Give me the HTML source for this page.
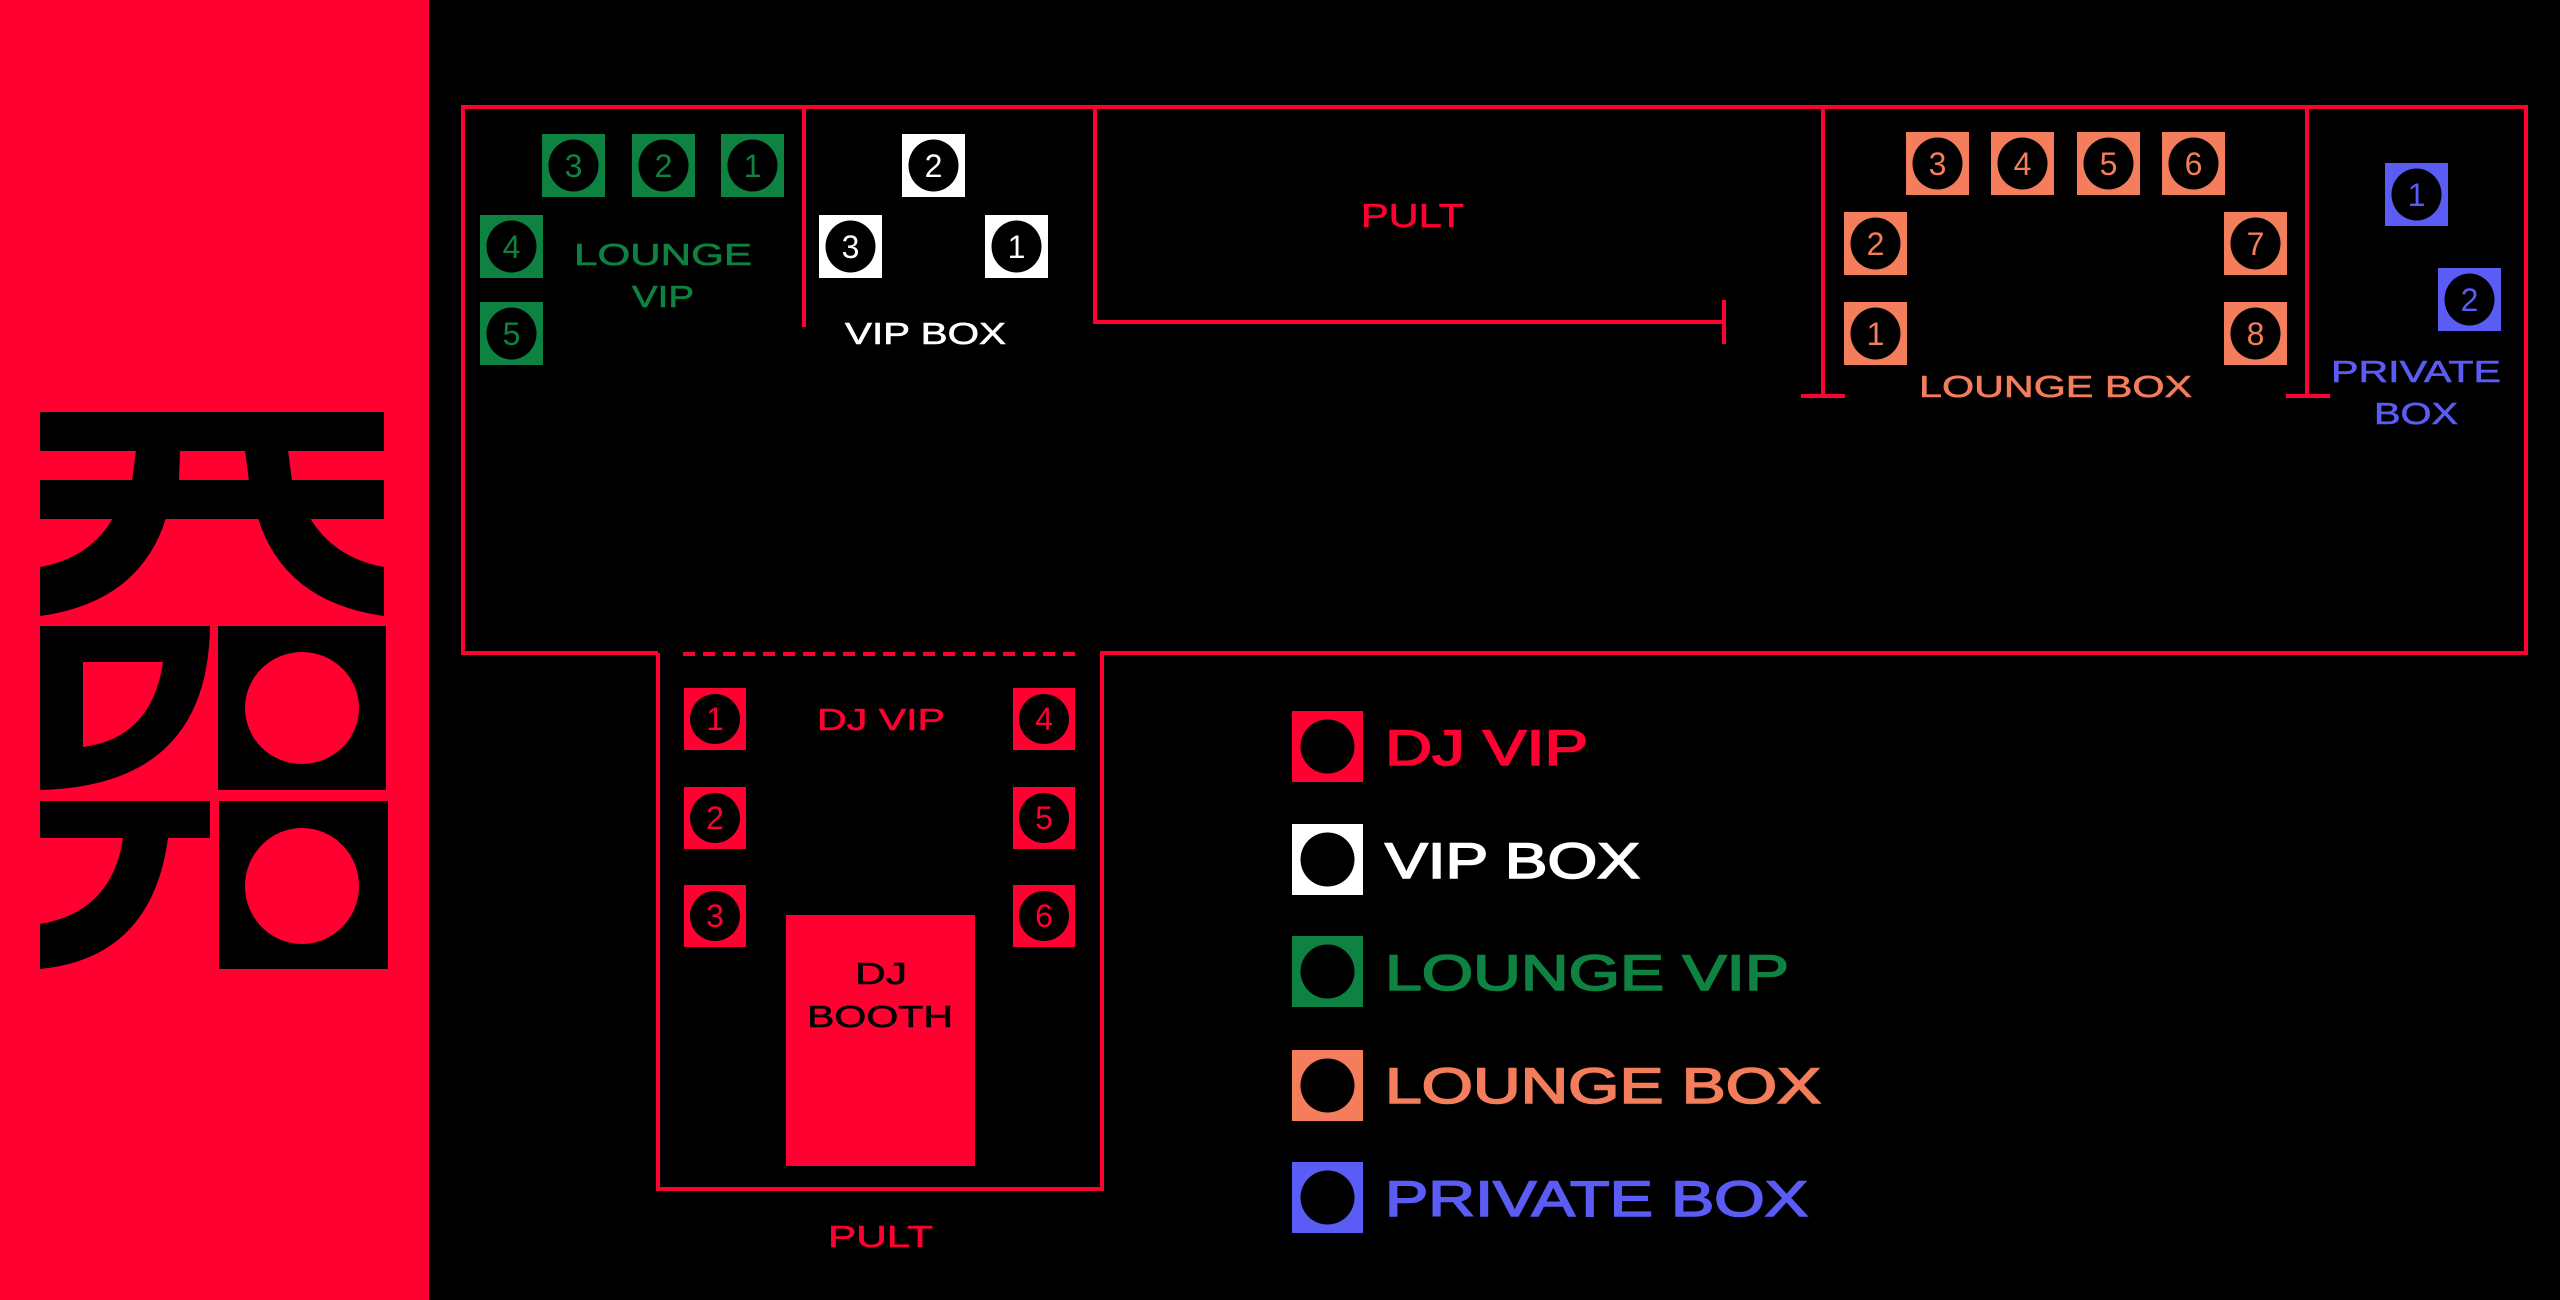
<!DOCTYPE html>
<html><head><meta charset="utf-8"><style>
html,body{margin:0;padding:0;background:#000;}
svg{display:block;}
text{font-family:"Liberation Sans",sans-serif;}
</style></head><body>
<svg width="2560" height="1300" viewBox="0 0 2560 1300" xmlns="http://www.w3.org/2000/svg">
<rect width="2560" height="1300" fill="#000"/>
<rect x="0" y="0" width="429" height="1300" fill="#FF0030"/>
<!-- logo -->
<g fill="#000">
<rect x="40" y="412" width="344" height="39"/>
<rect x="40" y="480" width="344" height="39"/>
<polygon points="136,450 180,450 179,481 132,481"/>
<polygon points="245,450 288,450 292,481 249,481"/>
<path d="M40,518 L113,518 Q90,558 40,567 L40,616 Q140,602 166,518 Z"/>
<path d="M384,518 L310,518 Q334,558 384,567 L384,616 Q284,602 258,518 Z"/>
<path fill-rule="evenodd" d="M40,626 L210,626 Q208,786 40,790 Z M83,662 L163,662 Q152,738 83,747 Z"/>
<rect x="218" y="626" width="168" height="164"/>
<rect x="40" y="801" width="170" height="37"/>
<path d="M40,924 Q112,912 123,838 L168,838 Q152,958 40,969 Z"/>
<rect x="219" y="801" width="169" height="168"/>
</g>
<ellipse cx="302" cy="708" rx="57" ry="56" fill="#FF0030"/>
<ellipse cx="302" cy="886" rx="57" ry="58" fill="#FF0030"/>

<!-- plan lines -->
<g stroke="#FF0030" stroke-width="4" fill="none">
<polyline points="658,653 463,653 463,107 2526,107 2526,653 1102,653 1102,1189 658,1189 658,653"/>
<line x1="683" y1="654" x2="1076" y2="654" stroke-dasharray="12 8"/>
<line x1="804" y1="107" x2="804" y2="327"/>
<polyline points="1095,107 1095,322 1724,322"/>
<line x1="1724" y1="300" x2="1724" y2="344"/>
<line x1="1823" y1="107" x2="1823" y2="396"/>
<line x1="1801" y1="396" x2="1845" y2="396"/>
<line x1="2307" y1="107" x2="2307" y2="396"/>
<line x1="2286" y1="396" x2="2330" y2="396"/>
</g>

<!-- seats -->
<g font-size="32" text-anchor="middle">
<!-- green -->
<g fill="#0E8240">
<rect x="542" y="134" width="63" height="63"/><rect x="632" y="134" width="63" height="63"/><rect x="721" y="134" width="63" height="63"/>
<rect x="480" y="215" width="63" height="63"/><rect x="480" y="302" width="63" height="63"/>
</g>
<g fill="#000">
<ellipse cx="573.5" cy="165.5" rx="25" ry="26"/><ellipse cx="663.5" cy="165.5" rx="25" ry="26"/><ellipse cx="752.5" cy="165.5" rx="25" ry="26"/>
<ellipse cx="511.5" cy="246.5" rx="25" ry="26"/><ellipse cx="511.5" cy="333.5" rx="25" ry="26"/>
</g>
<g fill="#0E8240">
<text x="573.5" y="177">3</text><text x="663.5" y="177">2</text><text x="752.5" y="177">1</text>
<text x="511.5" y="258">4</text><text x="511.5" y="345">5</text>
</g>
<!-- white -->
<g fill="#fff">
<rect x="902" y="134" width="63" height="63"/><rect x="819" y="215" width="63" height="63"/><rect x="985" y="215" width="63" height="63"/>
</g>
<g fill="#000">
<ellipse cx="933.5" cy="165.5" rx="25" ry="26"/><ellipse cx="850.5" cy="246.5" rx="25" ry="26"/><ellipse cx="1016.5" cy="246.5" rx="25" ry="26"/>
</g>
<g fill="#fff">
<text x="933.5" y="177">2</text><text x="850.5" y="258">3</text><text x="1016.5" y="258">1</text>
</g>
<!-- orange -->
<g fill="#F47D5B">
<rect x="1906" y="132" width="63" height="63"/><rect x="1991" y="132" width="63" height="63"/><rect x="2077" y="132" width="63" height="63"/><rect x="2162" y="132" width="63" height="63"/>
<rect x="1844" y="212" width="63" height="63"/><rect x="1844" y="302" width="63" height="63"/>
<rect x="2224" y="212" width="63" height="63"/><rect x="2224" y="302" width="63" height="63"/>
</g>
<g fill="#000">
<ellipse cx="1937.5" cy="163.5" rx="25" ry="26"/><ellipse cx="2022.5" cy="163.5" rx="25" ry="26"/><ellipse cx="2108.5" cy="163.5" rx="25" ry="26"/><ellipse cx="2193.5" cy="163.5" rx="25" ry="26"/>
<ellipse cx="1875.5" cy="243.5" rx="25" ry="26"/><ellipse cx="1875.5" cy="333.5" rx="25" ry="26"/>
<ellipse cx="2255.5" cy="243.5" rx="25" ry="26"/><ellipse cx="2255.5" cy="333.5" rx="25" ry="26"/>
</g>
<g fill="#F47D5B">
<text x="1937.5" y="175">3</text><text x="2022.5" y="175">4</text><text x="2108.5" y="175">5</text><text x="2193.5" y="175">6</text>
<text x="1875.5" y="255">2</text><text x="1875.5" y="345">1</text>
<text x="2255.5" y="255">7</text><text x="2255.5" y="345">8</text>
</g>
<!-- blue -->
<g fill="#5A5CF5">
<rect x="2385" y="163" width="63" height="63"/><rect x="2438" y="268" width="63" height="63"/>
</g>
<g fill="#000">
<ellipse cx="2416.5" cy="194.5" rx="25" ry="26"/><ellipse cx="2469.5" cy="299.5" rx="25" ry="26"/>
</g>
<g fill="#5A5CF5">
<text x="2416.5" y="206">1</text><text x="2469.5" y="311">2</text>
</g>
<!-- red DJ -->
<g fill="#FF0030">
<rect x="684" y="688" width="62" height="62"/><rect x="684" y="787" width="62" height="62"/><rect x="684" y="885" width="62" height="62"/>
<rect x="1013" y="688" width="62" height="62"/><rect x="1013" y="787" width="62" height="62"/><rect x="1013" y="885" width="62" height="62"/>
<rect x="786" y="915" width="189" height="251"/>
</g>
<g fill="#000">
<ellipse cx="715" cy="719" rx="25" ry="25"/><ellipse cx="715" cy="818" rx="25" ry="25"/><ellipse cx="715" cy="916" rx="25" ry="25"/>
<ellipse cx="1044" cy="719" rx="25" ry="25"/><ellipse cx="1044" cy="818" rx="25" ry="25"/><ellipse cx="1044" cy="916" rx="25" ry="25"/>
</g>
<g fill="#FF0030">
<text x="715" y="730">1</text><text x="715" y="829">2</text><text x="715" y="927">3</text>
<text x="1044" y="730">4</text><text x="1044" y="829">5</text><text x="1044" y="927">6</text>
</g>
</g>

<!-- plan labels -->
<g font-size="31" stroke-width="0.6" lengthAdjust="spacingAndGlyphs">
<text x="574" y="265" fill="#0E8240" stroke="#0E8240" textLength="178" lengthAdjust="spacingAndGlyphs">LOUNGE</text>
<text x="632" y="307" fill="#0E8240" stroke="#0E8240" textLength="62" lengthAdjust="spacingAndGlyphs">VIP</text>
<text x="845" y="344" fill="#fff" stroke="#fff" textLength="161" lengthAdjust="spacingAndGlyphs">VIP BOX</text>
<text x="1361" y="227" font-size="33" fill="#FF0030" stroke="#FF0030" textLength="103" lengthAdjust="spacingAndGlyphs">PULT</text>
<text x="1919" y="397" fill="#F47D5B" stroke="#F47D5B" textLength="273" lengthAdjust="spacingAndGlyphs">LOUNGE BOX</text>
<text x="2331" y="382" fill="#5A5CF5" stroke="#5A5CF5" textLength="170" lengthAdjust="spacingAndGlyphs">PRIVATE</text>
<text x="2374" y="424" fill="#5A5CF5" stroke="#5A5CF5" textLength="84" lengthAdjust="spacingAndGlyphs">BOX</text>
<text x="817" y="730" fill="#FF0030" stroke="#FF0030" textLength="128" lengthAdjust="spacingAndGlyphs">DJ VIP</text>
<text x="855" y="984" fill="#000" stroke="#000" textLength="52" lengthAdjust="spacingAndGlyphs">DJ</text>
<text x="807" y="1027" fill="#000" stroke="#000" textLength="146" lengthAdjust="spacingAndGlyphs">BOOTH</text>
<text x="828" y="1247" fill="#FF0030" stroke="#FF0030" textLength="105" lengthAdjust="spacingAndGlyphs">PULT</text>
</g>

<!-- legend -->
<rect x="1292" y="711" width="71" height="71" fill="#FF0030"/>
<rect x="1292" y="824" width="71" height="71" fill="#fff"/>
<rect x="1292" y="936" width="71" height="71" fill="#0E8240"/>
<rect x="1292" y="1050" width="71" height="71" fill="#F47D5B"/>
<rect x="1292" y="1162" width="71" height="71" fill="#5A5CF5"/>
<g fill="#000">
<circle cx="1327.5" cy="746.5" r="27"/><circle cx="1327.5" cy="859.5" r="27"/><circle cx="1327.5" cy="971.5" r="27"/><circle cx="1327.5" cy="1085.5" r="27"/><circle cx="1327.5" cy="1197.5" r="27"/>
</g>
<g font-size="50" stroke-width="1.6">
<text x="1385" y="765" fill="#FF0030" stroke="#FF0030" textLength="203" lengthAdjust="spacingAndGlyphs">DJ VIP</text>
<text x="1385" y="878" fill="#fff" stroke="#fff" textLength="255" lengthAdjust="spacingAndGlyphs">VIP BOX</text>
<text x="1385" y="990" fill="#0E8240" stroke="#0E8240" textLength="404" lengthAdjust="spacingAndGlyphs">LOUNGE VIP</text>
<text x="1385" y="1103" fill="#F47D5B" stroke="#F47D5B" textLength="436" lengthAdjust="spacingAndGlyphs">LOUNGE BOX</text>
<text x="1385" y="1216" fill="#5A5CF5" stroke="#5A5CF5" textLength="423" lengthAdjust="spacingAndGlyphs">PRIVATE BOX</text>
</g>
</svg>
</body></html>
